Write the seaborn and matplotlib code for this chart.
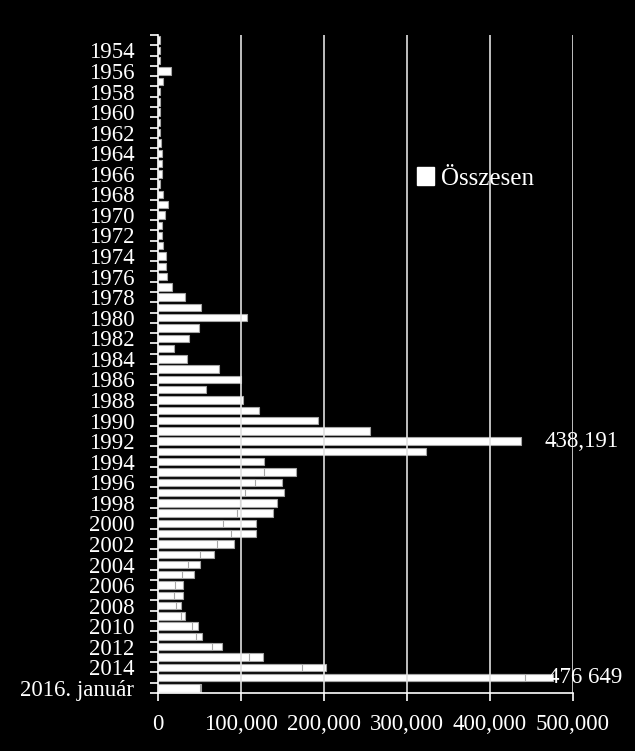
import matplotlib
matplotlib.use("Agg")
import matplotlib.pyplot as plt
import seaborn as sns
import pandas as pd
import numpy as np
from matplotlib.patches import Patch

# ---- data ----
categories = [str(y) for y in range(1953, 2016)] + ["2016. január"]
total = [1906, 2174, 1926, 16284, 5622, 2785, 2267, 2980, 2722, 2550,
         3238, 4542, 4337, 4868, 2992, 5608, 11664, 8645, 5388, 5289,
         5595, 9424, 9627, 11123, 16410, 33136, 51493, 107818, 49391, 37423,
         19737, 35278, 73832, 99650, 57379, 103076, 121318, 193063, 256112, 438191,
         322599, 127210, 166951, 149193, 151700, 143429, 138319, 117648, 118306, 91471,
         67848, 50152, 42908, 30100, 30303, 28018, 33033, 48589, 53347, 77651,
         127023, 202834, 476649, 52103]
first_years = [str(y) for y in range(1995, 2016)] + ["2016. január"]
first_apps = [127937, 116367, 104353, 98644, 95113, 78564, 88287, 71127, 50563, 35607,
              28914, 21029, 19164, 22085, 27649, 41332, 45741, 64539, 109580, 173072,
              441899, 50200]
legend_label = "Összesen"
annotations = {"1992": "438,191", "2015": "476 649"}
xticks = [0, 100000, 200000, 300000, 400000, 500000]

df_total = pd.DataFrame({"cat": categories, "val": total})
df_first = pd.DataFrame({"cat": first_years, "val": first_apps})

sns.set_style("dark")
plt.rcParams["font.family"] = ["Liberation Serif", "DejaVu Serif"]
plt.rcParams["font.size"] = 16

fig = plt.figure(figsize=(6.35, 7.51), dpi=100, facecolor="black")
ax = fig.add_axes([0.2488, 0.0772, 0.9019 - 0.2488, 0.9534 - 0.0772])
ax.set_facecolor("black")

sns.barplot(data=df_total, y="cat", x="val", order=categories, orient="h",
            color="white", saturation=1, width=0.72, edgecolor="#a6a6a6",
            linewidth=0.8, ax=ax, zorder=2)
sns.barplot(data=df_first, y="cat", x="val", order=categories, orient="h",
            color="white", saturation=1, width=0.72, edgecolor="#a6a6a6",
            linewidth=0.8, ax=ax, zorder=3)

ax.set_xlim(0, 500000)
ax.set_ylim(len(categories) - 0.5, -0.5)
ax.set_xlabel("")
ax.set_ylabel("")

# x axis
ax.set_xticks(xticks)
ax.set_xticklabels([f"{v:,}" for v in xticks], color="white", fontsize=16.5)
ax.tick_params(axis="x", which="major", length=6, width=1.2, color="white",
               pad=9, direction="out", bottom=True)
ax.grid(False)
for v in xticks[1:]:
    ax.axvline(v, color="#e0e0e0", lw=1.2, zorder=4)

# y axis: ticks at category boundaries, labels on every other category
bounds = np.arange(-0.5, len(categories), 1.0)
ax.set_yticks(bounds)
ax.set_yticklabels([""] * len(bounds))
ax.tick_params(axis="y", which="major", length=5.5, width=1.2, color="white",
               direction="out", left=True)
label_pos = list(range(1, len(categories), 2))
ax.set_yticks(label_pos, minor=True)
ax.set_yticklabels([categories[i] for i in label_pos], minor=True,
                   color="white", fontsize=16.5)
ax.tick_params(axis="y", which="minor", length=0, pad=17)

for s in ["top", "right"]:
    ax.spines[s].set_visible(False)
for s in ["left", "bottom"]:
    ax.spines[s].set_visible(True)
    ax.spines[s].set_color("white")
    ax.spines[s].set_linewidth(1.2)
    ax.spines[s].set_zorder(5)

# annotations
ann_x = {"1992": 466500, "2015": 470000}
for cat, txt in annotations.items():
    ax.text(ann_x[cat], categories.index(cat), txt, color="white", fontsize=16.5,
            va="center", ha="left", clip_on=False, zorder=6)

# legend
leg = ax.legend(handles=[Patch(facecolor="white", edgecolor="white")],
                labels=[legend_label], loc="center left",
                bbox_to_anchor=(0.57, 0.782), frameon=False,
                fontsize=18, labelcolor="white", handlelength=0.7,
                handleheight=0.7, handletextpad=0.25)

fig.savefig("out.png", dpi=100, facecolor="black")
